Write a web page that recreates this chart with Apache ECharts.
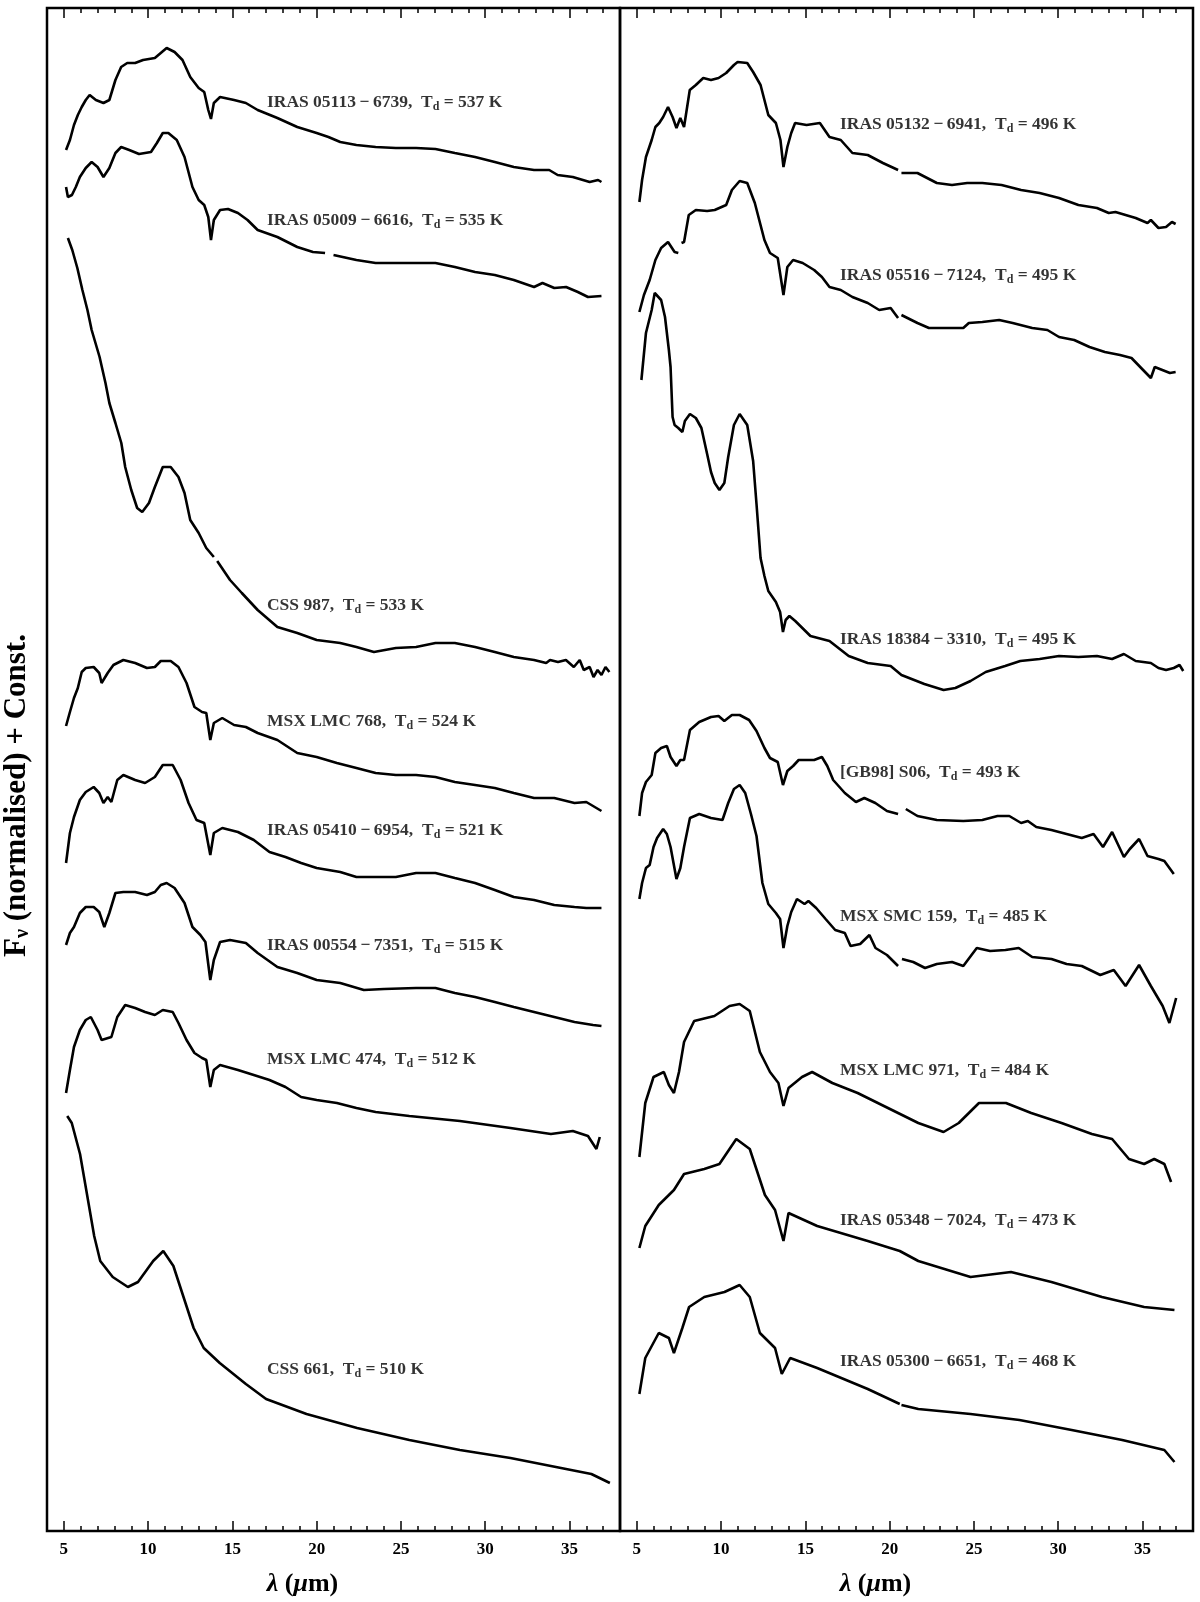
<!DOCTYPE html>
<html>
<head>
<meta charset="utf-8">
<script src="https://cdn.jsdelivr.net/npm/echarts@6/dist/echarts.min.js"></script>
<style>
  html, body { margin: 0; padding: 0; background: #fff; }
  #main { width: 1200px; height: 1602px; }
</style>
</head>
<body>
<div id="main"></div>
<script>
// x axis ticks (micron)
const xMajor = [5, 10, 15, 20, 25, 30, 35]
const xMinor = [6, 7, 8, 9, 11, 12, 13, 14, 16, 17, 18, 19, 21, 22, 23, 24, 26, 27, 28, 29, 31, 32, 33, 34, 36, 37]

// spectra, [lambda (um), F_nu normalised + const]; '-' marks a gap
const iras05113 = [[5.13,13.81],[5.36,13.91],[5.6,14.06],[5.83,14.16],[6.06,14.24],[6.3,14.31],[6.53,14.36],[6.9,14.31],[7.35,14.28],[7.7,14.31],[8.06,14.51],[8.4,14.64],[8.76,14.68],[9.23,14.68],[9.7,14.71],[10.4,14.73],[11.1,14.83],[11.57,14.79],[12.04,14.71],[12.5,14.54],[13.0,14.43],[13.33,14.39],[13.57,14.21],[13.73,14.12],[13.9,14.28],[14.27,14.34],[15.1,14.31],[15.8,14.28],[16.5,14.21],[17.67,14.13],[18.85,14.04],[20.0,13.98],[20.7,13.94],[21.4,13.89],[22.36,13.86],[23.5,13.84],[24.7,13.83],[25.9,13.83],[27.05,13.82],[28.2,13.78],[29.4,13.74],[30.57,13.69],[31.7,13.64],[32.9,13.61],[33.8,13.61],[34.3,13.56],[35.2,13.54],[36.2,13.49],[36.7,13.51],[36.9,13.49]]
const iras05009 = [[5.13,13.44],[5.24,13.34],[5.48,13.36],[5.71,13.44],[5.95,13.54],[6.3,13.63],[6.65,13.69],[7.0,13.64],[7.35,13.54],[7.7,13.63],[8.06,13.78],[8.4,13.84],[8.88,13.81],[9.46,13.77],[10.17,13.79],[10.52,13.88],[10.87,13.98],[11.2,13.98],[11.7,13.91],[12.16,13.74],[12.63,13.44],[13.0,13.31],[13.33,13.26],[13.57,13.14],[13.73,12.91],[13.9,13.11],[14.27,13.21],[14.74,13.22],[15.33,13.18],[15.9,13.11],[16.5,13.01],[17.67,12.94],[18.85,12.84],[19.78,12.79],[20.5,12.78],[20.75,'-'],[21.0,12.76],[22.36,12.71],[23.5,12.68],[24.7,12.68],[25.9,12.68],[27.05,12.68],[28.2,12.64],[29.4,12.59],[30.57,12.56],[31.7,12.51],[32.9,12.44],[33.4,12.48],[34.1,12.43],[34.8,12.44],[35.5,12.39],[36.1,12.34],[36.9,12.35]]
const css987 = [[5.24,12.93],[5.5,12.81],[5.8,12.63],[6.1,12.41],[6.4,12.21],[6.65,12.01],[7.12,11.74],[7.47,11.48],[7.7,11.28],[8.06,11.08],[8.41,10.88],[8.64,10.64],[9.0,10.41],[9.35,10.23],[9.65,10.19],[10.05,10.28],[10.4,10.44],[10.87,10.64],[11.34,10.64],[11.8,10.54],[12.16,10.38],[12.5,10.11],[13.0,9.98],[13.45,9.83],[13.9,9.74],[14.0,'-'],[14.1,9.70],[14.86,9.51],[15.56,9.38],[16.5,9.21],[17.67,9.04],[18.85,8.98],[20.0,8.91],[21.4,8.88],[22.36,8.84],[23.4,8.79],[24.7,8.83],[25.9,8.84],[27.05,8.88],[28.2,8.88],[29.4,8.84],[30.57,8.79],[31.7,8.74],[32.9,8.71],[33.62,8.68],[33.85,8.71],[34.32,8.69],[34.79,8.71],[35.26,8.64],[35.61,8.71],[35.85,8.61],[36.2,8.64],[36.43,8.54],[36.67,8.61],[36.9,8.56],[37.14,8.64],[37.37,8.59]]
const msxLmc768 = [[5.13,8.05],[5.36,8.19],[5.6,8.33],[5.83,8.43],[6.06,8.59],[6.3,8.63],[6.77,8.64],[7.1,8.58],[7.24,8.48],[7.6,8.58],[7.94,8.66],[8.53,8.71],[9.23,8.68],[9.93,8.63],[10.4,8.64],[10.75,8.70],[11.34,8.70],[11.8,8.64],[12.28,8.48],[12.75,8.24],[13.2,8.19],[13.45,8.18],[13.69,7.91],[13.9,8.08],[14.4,8.13],[15.1,8.06],[15.8,8.04],[16.5,7.98],[17.67,7.91],[18.85,7.78],[20.0,7.74],[21.2,7.68],[22.36,7.63],[23.5,7.58],[24.7,7.56],[25.9,7.56],[27.05,7.54],[28.2,7.49],[29.4,7.46],[30.57,7.43],[31.7,7.38],[32.9,7.33],[34.1,7.33],[35.3,7.28],[36.0,7.29],[36.5,7.24],[36.9,7.20]]
const iras05410 = [[5.13,6.68],[5.36,6.98],[5.6,7.14],[5.95,7.31],[6.3,7.39],[6.77,7.44],[7.1,7.38],[7.35,7.28],[7.6,7.34],[7.82,7.29],[8.17,7.51],[8.53,7.56],[9.23,7.51],[9.82,7.48],[10.4,7.54],[10.87,7.66],[11.46,7.66],[11.93,7.51],[12.4,7.28],[12.87,7.11],[13.33,7.08],[13.69,6.76],[13.9,6.98],[14.4,7.03],[15.33,6.99],[16.27,6.91],[17.2,6.79],[18.15,6.74],[19.08,6.68],[20.0,6.63],[21.4,6.59],[22.36,6.54],[23.5,6.54],[24.7,6.54],[25.9,6.58],[27.05,6.58],[28.2,6.53],[29.4,6.48],[30.57,6.41],[31.7,6.34],[32.9,6.31],[34.1,6.26],[35.3,6.24],[36.0,6.23],[36.9,6.23]]
const iras00554 = [[5.13,5.86],[5.36,5.98],[5.6,6.04],[5.95,6.18],[6.3,6.24],[6.77,6.24],[7.1,6.19],[7.4,6.04],[7.7,6.18],[8.06,6.38],[8.53,6.39],[9.23,6.39],[9.93,6.36],[10.4,6.39],[10.75,6.46],[11.1,6.48],[11.57,6.43],[12.16,6.28],[12.63,6.04],[13.1,5.96],[13.4,5.89],[13.69,5.51],[13.9,5.71],[14.27,5.89],[14.86,5.91],[15.8,5.88],[16.5,5.78],[17.67,5.64],[18.85,5.58],[20.0,5.51],[21.4,5.48],[22.8,5.41],[24.0,5.42],[25.9,5.43],[27.05,5.43],[28.2,5.38],[29.4,5.34],[30.57,5.29],[31.7,5.24],[32.9,5.19],[34.1,5.14],[35.3,5.09],[36.4,5.06],[36.9,5.05]]
const msxLmc474 = [[5.13,4.38],[5.36,4.61],[5.6,4.84],[5.95,5.01],[6.3,5.11],[6.6,5.14],[7.0,5.01],[7.24,4.91],[7.82,4.94],[8.17,5.14],[8.64,5.26],[9.23,5.23],[9.82,5.19],[10.4,5.16],[10.87,5.21],[11.46,5.19],[11.8,5.08],[12.28,4.91],[12.75,4.78],[13.2,4.73],[13.45,4.71],[13.69,4.44],[13.9,4.61],[14.27,4.66],[15.33,4.61],[16.27,4.56],[17.2,4.51],[18.15,4.44],[19.08,4.34],[20.0,4.31],[21.2,4.28],[22.36,4.23],[23.5,4.19],[25.5,4.15],[28.5,4.10],[31.5,4.03],[33.9,3.97],[35.2,4.00],[36.1,3.95],[36.6,3.82],[36.8,3.94]]
const css661 = [[5.2,4.15],[5.47,4.08],[5.96,3.77],[6.38,3.36],[6.8,2.95],[7.16,2.70],[7.9,2.54],[8.8,2.44],[9.4,2.49],[10.3,2.70],[10.9,2.80],[11.5,2.65],[12.1,2.34],[12.7,2.03],[13.3,1.83],[14.25,1.68],[15.8,1.47],[17.0,1.32],[19.4,1.17],[22.4,1.03],[25.5,0.91],[28.5,0.81],[31.5,0.73],[34.5,0.63],[36.3,0.57],[37.4,0.48]]

const iras05132 = [[5.15,13.29],[5.31,13.51],[5.54,13.74],[5.88,13.91],[6.1,14.04],[6.33,14.08],[6.56,14.14],[6.85,14.24],[7.12,14.14],[7.35,14.03],[7.58,14.13],[7.8,14.04],[8.14,14.41],[8.5,14.46],[8.94,14.53],[9.4,14.51],[9.85,14.53],[10.3,14.58],[10.76,14.66],[10.98,14.69],[11.55,14.68],[11.9,14.59],[12.34,14.46],[12.8,14.16],[13.25,14.08],[13.52,13.91],[13.7,13.64],[13.93,13.84],[14.16,13.98],[14.39,14.08],[15.07,14.06],[15.86,14.08],[16.43,13.94],[17.1,13.91],[17.79,13.78],[18.7,13.76],[19.6,13.68],[20.5,13.61],[20.6,'-'],[20.7,13.58],[21.65,13.58],[22.8,13.48],[23.7,13.46],[24.6,13.48],[25.5,13.48],[26.64,13.46],[27.8,13.41],[28.9,13.38],[30.05,13.33],[31.2,13.26],[32.3,13.23],[33.0,13.18],[33.4,13.19],[34.6,13.13],[35.3,13.08],[35.5,13.11],[35.95,13.03],[36.4,13.04],[36.75,13.09],[36.97,13.07]]
const iras05516 = [[5.15,12.19],[5.42,12.36],[5.76,12.51],[6.1,12.71],[6.44,12.83],[6.85,12.89],[7.24,12.79],[7.46,12.78],[7.55,'-'],[7.65,12.88],[7.8,12.89],[8.08,13.16],[8.5,13.21],[9.17,13.20],[9.62,13.21],[10.3,13.26],[10.64,13.41],[11.1,13.50],[11.55,13.48],[12.0,13.28],[12.57,12.91],[12.9,12.78],[13.36,12.73],[13.7,12.36],[13.93,12.64],[14.27,12.71],[14.84,12.68],[15.52,12.61],[15.98,12.54],[16.43,12.44],[17.1,12.41],[17.79,12.34],[18.7,12.28],[19.38,12.21],[20.06,12.23],[20.5,12.13],[20.6,'-'],[20.7,12.16],[21.65,12.08],[22.33,12.03],[23.24,12.03],[24.37,12.03],[24.7,12.08],[25.5,12.09],[26.5,12.11],[27.3,12.08],[28.46,12.03],[29.36,12.01],[30.05,11.94],[30.95,11.91],[31.86,11.84],[32.77,11.79],[33.67,11.76],[34.35,11.73],[35.04,11.61],[35.5,11.53],[35.73,11.64],[36.18,11.61],[36.63,11.58],[36.97,11.59]]
const iras18384 = [[5.27,11.51],[5.54,11.98],[5.88,12.21],[6.06,12.38],[6.44,12.31],[6.67,12.14],[6.9,11.81],[7.0,11.64],[7.12,11.14],[7.24,11.06],[7.46,11.03],[7.7,10.99],[7.85,11.10],[8.15,11.17],[8.5,11.13],[8.83,11.03],[9.17,10.77],[9.4,10.59],[9.62,10.48],[9.9,10.41],[10.19,10.48],[10.42,10.74],[10.76,11.06],[11.1,11.17],[11.55,11.06],[11.9,10.70],[12.1,10.27],[12.34,9.73],[12.57,9.55],[12.8,9.40],[13.25,9.29],[13.5,9.19],[13.67,8.99],[13.83,9.11],[14.05,9.15],[14.4,9.10],[15.3,8.95],[16.43,8.90],[17.57,8.75],[18.7,8.68],[20.06,8.65],[20.7,8.56],[22.06,8.47],[23.2,8.41],[23.9,8.43],[24.8,8.50],[25.7,8.59],[26.85,8.65],[27.75,8.70],[28.9,8.72],[30.05,8.75],[31.2,8.74],[32.3,8.75],[33.2,8.72],[33.9,8.77],[34.6,8.70],[35.5,8.68],[35.95,8.63],[36.4,8.61],[36.86,8.63],[37.2,8.66],[37.42,8.60]]
const gb98s06 = [[5.15,7.15],[5.31,7.38],[5.54,7.49],[5.88,7.56],[6.1,7.78],[6.44,7.83],[6.78,7.85],[7.0,7.74],[7.35,7.65],[7.58,7.71],[7.8,7.71],[8.15,8.01],[8.7,8.09],[9.4,8.14],[9.85,8.15],[10.19,8.10],[10.64,8.16],[11.1,8.16],[11.66,8.11],[12.1,8.00],[12.57,7.83],[12.9,7.73],[13.36,7.69],[13.67,7.46],[13.93,7.60],[14.27,7.65],[14.6,7.71],[15.18,7.71],[15.52,7.71],[15.98,7.74],[16.3,7.65],[16.65,7.51],[17.34,7.38],[18.0,7.29],[18.5,7.33],[19.15,7.28],[19.84,7.20],[20.5,7.17],[20.7,'-'],[20.96,7.22],[21.65,7.15],[22.8,7.11],[24.37,7.10],[25.5,7.11],[26.4,7.15],[27.1,7.15],[27.8,7.08],[28.2,7.10],[28.7,7.04],[29.6,7.01],[30.5,6.97],[31.4,6.93],[32.1,6.97],[32.66,6.84],[33.2,6.99],[33.9,6.74],[34.25,6.82],[34.8,6.92],[35.3,6.75],[35.95,6.72],[36.3,6.70],[36.86,6.57]]
const msxSmc159 = [[5.15,6.32],[5.31,6.48],[5.54,6.63],[5.76,6.66],[5.99,6.84],[6.2,6.93],[6.56,7.02],[6.78,6.97],[7.0,6.84],[7.35,6.52],[7.58,6.63],[7.8,6.84],[8.15,7.13],[8.7,7.17],[9.4,7.13],[10.08,7.11],[10.42,7.28],[10.76,7.42],[11.1,7.46],[11.43,7.38],[11.77,7.17],[12.1,6.95],[12.45,6.48],[12.8,6.27],[13.25,6.18],[13.5,6.12],[13.7,5.83],[13.93,6.05],[14.16,6.19],[14.5,6.32],[14.95,6.27],[15.18,6.30],[15.64,6.23],[16.2,6.12],[16.77,6.01],[17.34,5.98],[17.68,5.85],[18.25,5.87],[18.8,5.96],[19.16,5.83],[19.84,5.76],[20.5,5.65],[20.6,'-'],[20.73,5.72],[21.4,5.69],[22.1,5.63],[22.8,5.67],[23.7,5.69],[24.37,5.65],[25.17,5.83],[25.96,5.80],[26.87,5.81],[27.66,5.83],[28.46,5.74],[29.6,5.72],[30.5,5.67],[31.4,5.65],[32.5,5.56],[33.3,5.61],[34.0,5.45],[34.8,5.66],[35.5,5.45],[36.2,5.25],[36.6,5.08],[37.0,5.33]]
const msxLmc971 = [[5.15,3.74],[5.5,4.28],[5.99,4.54],[6.6,4.59],[6.9,4.46],[7.2,4.38],[7.5,4.59],[7.8,4.89],[8.4,5.10],[9.6,5.15],[10.5,5.25],[11.1,5.27],[11.7,5.20],[12.3,4.79],[12.9,4.59],[13.4,4.48],[13.7,4.25],[14.0,4.43],[14.8,4.54],[15.4,4.59],[16.6,4.48],[18.1,4.38],[19.9,4.23],[21.7,4.08],[23.2,3.99],[24.1,4.08],[25.3,4.28],[26.9,4.28],[28.4,4.18],[30.2,4.08],[32.0,3.97],[33.2,3.92],[34.2,3.72],[35.1,3.67],[35.7,3.72],[36.3,3.67],[36.7,3.49]]
const iras05348 = [[5.15,2.83],[5.5,3.05],[6.3,3.26],[7.2,3.41],[7.8,3.57],[9.0,3.62],[9.9,3.67],[10.5,3.82],[10.9,3.92],[11.7,3.82],[12.6,3.36],[13.2,3.21],[13.7,2.90],[14.0,3.18],[15.7,3.05],[18.7,2.90],[20.6,2.80],[21.7,2.70],[24.8,2.54],[27.2,2.59],[29.6,2.49],[32.6,2.34],[35.1,2.24],[36.9,2.21]]
const iras05300 = [[5.15,1.37],[5.5,1.73],[6.3,1.98],[6.9,1.93],[7.2,1.78],[7.7,2.03],[8.1,2.24],[9.0,2.34],[10.2,2.39],[11.1,2.46],[11.7,2.34],[12.3,1.98],[13.2,1.83],[13.6,1.57],[14.1,1.73],[15.7,1.63],[18.7,1.42],[20.6,1.27],[20.65,'-'],[20.7,1.26],[21.7,1.22],[24.8,1.17],[27.7,1.11],[30.8,1.01],[33.8,0.91],[36.3,0.81],[36.9,0.69]]

// object labels
const leftNames = ['IRAS 05113\u2009\u2212\u20096739', 'IRAS 05009\u2009\u2212\u20096616', 'CSS 987', 'MSX LMC 768', 'IRAS 05410\u2009\u2212\u20096954', 'IRAS 00554\u2009\u2212\u20097351', 'MSX LMC 474', 'CSS 661']
const leftTemps = [537, 535, 533, 524, 521, 515, 512, 510]
const leftLabelY = [14.29, 13.11, 9.26, 8.10, 7.01, 5.86, 4.72, 1.62]
const rightNames = ['IRAS 05132\u2009\u2212\u20096941', 'IRAS 05516\u2009\u2212\u20097124', 'IRAS 18384\u2009\u2212\u20093310', '[GB98] S06', 'MSX SMC 159', 'MSX LMC 971', 'IRAS 05348\u2009\u2212\u20097024', 'IRAS 05300\u2009\u2212\u20096651']
const rightTemps = [496, 495, 495, 493, 485, 484, 473, 468]
const rightLabelY = [14.07, 12.56, 8.92, 7.59, 6.15, 4.61, 3.11, 1.70]
const labelX = 17.05

const leftSpectra = [iras05113, iras05009, css987, msxLmc768, iras05410, iras00554, msxLmc474, css661]
const rightSpectra = [iras05132, iras05516, iras18384, gb98s06, msxSmc159, msxLmc971, iras05348, iras05300]

const FONT = '"Liberation Serif", "Times New Roman", serif'

function xAxes (g) {
  const base = {
    gridIndex: g,
    type: 'value',
    min: 4,
    max: 38,
    axisLine: { show: false },
    splitLine: { show: false }
  }
  return [
    Object.assign({}, base, {
      position: 'bottom',
      axisTick: { inside: true, length: 10, customValues: xMajor, lineStyle: { color: '#000', width: 1.5 } },
      axisLabel: {
        customValues: xMajor,
        margin: 10,
        color: '#000',
        fontFamily: FONT,
        fontWeight: 'bold',
        fontSize: 17
      },
      name: '{i|\u03bb}{b| (}{i|\u03bc}{b|m)}',
      nameLocation: 'middle',
      nameGap: 40,
      nameTextStyle: {
        padding: [0, 62, 0, 0],
        rich: {
          i: { fontFamily: FONT, fontWeight: 'bold', fontStyle: 'italic', fontSize: 26, color: '#000' },
          b: { fontFamily: FONT, fontWeight: 'bold', fontSize: 26, color: '#000' }
        }
      }
    }),
    Object.assign({}, base, {
      position: 'bottom',
      axisTick: { inside: true, length: 5, customValues: xMinor, lineStyle: { color: '#000', width: 1.5 } },
      axisLabel: { show: false }
    }),
    Object.assign({}, base, {
      position: 'top',
      axisTick: { inside: true, length: 10, customValues: xMajor, lineStyle: { color: '#000', width: 1.5 } },
      axisLabel: { show: false }
    }),
    Object.assign({}, base, {
      position: 'top',
      axisTick: { inside: true, length: 5, customValues: xMinor, lineStyle: { color: '#000', width: 1.5 } },
      axisLabel: { show: false }
    })
  ]
}

function buildSeries (spectra, names, temps, labelY, g) {
  const out = spectra.map((d) => ({
    type: 'line',
    xAxisIndex: g * 4,
    yAxisIndex: g,
    data: d,
    showSymbol: false,
    connectNulls: false,
    lineStyle: { color: '#000', width: 2.6 },
    silent: true
  }))
  out.push({
    type: 'scatter',
    xAxisIndex: g * 4,
    yAxisIndex: g,
    symbolSize: 0,
    silent: true,
    data: names.map((n, i) => ({ value: [labelX, labelY[i]], name: n, temp: temps[i] })),
    label: {
      show: true,
      position: 'right',
      distance: 0,
      formatter: (p) => '{n|' + p.data.name + ',  T}{s|d}{n| = ' + p.data.temp + ' K}',
      rich: {
        n: { fontFamily: FONT, fontWeight: 'bold', fontSize: 17.5, color: '#000', lineHeight: 22 },
        s: { fontFamily: FONT, fontWeight: 'bold', fontSize: 12, color: '#000', padding: [9, 0, 0, 0], lineHeight: 22 }
      }
    }
  })
  return out
}

const chart = echarts.init(document.getElementById('main'))
chart.setOption({
  animation: false,
  backgroundColor: '#fff',
  grid: [
    { left: 47, top: 8, width: 573, height: 1523, show: true, borderColor: '#000', borderWidth: 2.5, backgroundColor: 'transparent' },
    { left: 620, top: 8, width: 573, height: 1523, show: true, borderColor: '#000', borderWidth: 2.5, backgroundColor: 'transparent' }
  ],
  xAxis: xAxes(0).concat(xAxes(1)),
  yAxis: [
    {
      gridIndex: 0,
      type: 'value',
      min: 0,
      max: 15.23,
      axisLine: { show: false },
      axisTick: { show: false },
      axisLabel: { show: false },
      splitLine: { show: false },
      name: '{b|F}{s|\u03bd}{b| (normalised) + Const.}',
      nameLocation: 'middle',
      nameRotate: 90,
      nameGap: 14,
      nameTextStyle: {
        padding: [0, 52, 0, 0],
        rich: {
          b: { fontFamily: FONT, fontWeight: 'bold', fontSize: 31, color: '#000' },
          s: { fontFamily: FONT, fontWeight: 'bold', fontSize: 20, color: '#000', padding: [12, 0, 0, 0] }
        }
      }
    },
    {
      gridIndex: 1,
      type: 'value',
      min: 0,
      max: 15.23,
      axisLine: { show: false },
      axisTick: { show: false },
      axisLabel: { show: false },
      splitLine: { show: false }
    }
  ],
  series: buildSeries(leftSpectra, leftNames, leftTemps, leftLabelY, 0)
    .concat(buildSeries(rightSpectra, rightNames, rightTemps, rightLabelY, 1))
})
</script>
</body>
</html>
